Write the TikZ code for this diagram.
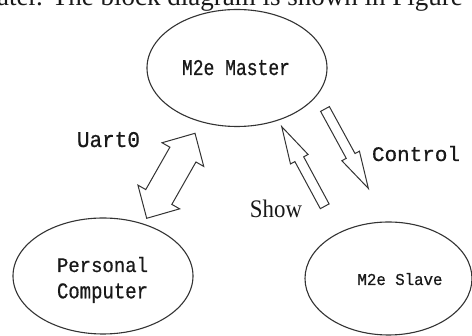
\documentclass[tikz,border=0pt]{standalone}
\usepackage{fontspec}
\setmainfont{Liberation Serif}
\newfontfamily\cnmono[FakeBold=0.7]{Liberation Mono}
\usetikzlibrary{shapes.geometric}
\begin{document}
\begin{tikzpicture}[x=1pt,y=-1pt,
  bubble/.style={draw=black!80, line width=1.1pt, ellipse, inner sep=0pt},
  blockarrow/.style={draw=black!80, line width=1pt, fill=white, line join=miter},
  lbl/.style={inner sep=0pt, text=black!90}]
\useasboundingbox (0,0) rectangle (472,336);
\clip (0,0) rectangle (472,336);

% cut-off line of running text at the top
\node[lbl, anchor=base east, font=\fontsize{27}{27}\selectfont] (cut) at (463,6) {ater. The block diagram is shown in Figure};

% ellipses
\node[bubble, minimum width=180pt, minimum height=117pt] (master) at (237,68) {};
\node[bubble, minimum width=180pt, minimum height=116pt] (pc) at (103,276) {};
\node[bubble, minimum width=167pt, minimum height=113pt] (slave) at (388.5,278.5) {};

% texts in ellipses
\node[lbl, anchor=base] (mastertxt) at (236,75) {\resizebox{108pt}{15pt}{\cnmono M2e Master}};
\node[lbl, anchor=base] (pctxta) at (102.5,272) {\resizebox{91pt}{15pt}{\cnmono Personal}};
\node[lbl, anchor=base] (pctxtb) at (102.5,298.3) {\resizebox{91pt}{15pt}{\cnmono Computer}};
\node[lbl, anchor=base] (slavetxt) at (400,285) {\resizebox{85pt}{12pt}{\cnmono M2e Slave}};

% Uart0 double block arrow
\begin{scope}[shift={(170.85,175.8)}, x={(0.4939pt,0.8691pt)}, y={(0.8691pt,-0.4939pt)}]
\draw[blockarrow] (-48.9,0) coordinate (uartlo) -- (-24.4,24) -- (-24.4,15) -- (24.4,15) -- (24.4,24)
  -- (48.9,0) coordinate (uarthi) -- (24.4,-24) -- (24.4,-15) -- (-24.4,-15) -- (-24.4,-24) -- cycle;
\end{scope}

% Show arrow (slave -> master)
\begin{scope}[shift={(324.7,206.3)}, x={(-0.475pt,0.880pt)}, y={(0.880pt,0.475pt)}]
\draw[blockarrow] (0,-5) coordinate (showtail) -- (53.5,-5) -- (53.5,-10) -- (90.5,0) coordinate (showtip)
  -- (53.5,10) -- (53.5,5) -- (0,5) -- cycle;
\end{scope}

% Control arrow (master -> slave)
\begin{scope}[shift={(325,109)}, x={(0.4793pt,-0.8777pt)}, y={(0.8777pt,0.4793pt)}]
\draw[blockarrow] (0,-5) coordinate (ctrltail) -- (53.5,-5) -- (53.5,-10) -- (90.5,0) coordinate (ctrltip)
  -- (53.5,10) -- (53.5,5) -- (0,5) -- cycle;
\end{scope}

% labels
\node[lbl, anchor=base] (uartlbl) at (108.5,147) {\resizebox{63pt}{15pt}{\cnmono Uart0}};
\node[lbl, anchor=base] (ctrllbl) at (416,161) {\resizebox{88pt}{15pt}{\cnmono Control}};
\node[lbl, anchor=base] (showlbl) at (276,218) {\resizebox{52pt}{17.5pt}{Show}};
\end{tikzpicture}
\end{document}
